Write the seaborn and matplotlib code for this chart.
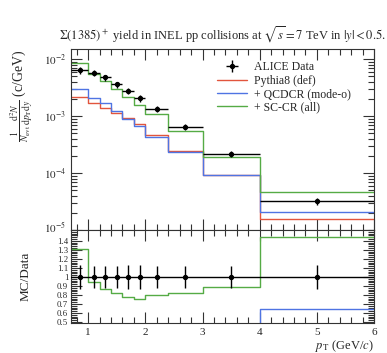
import numpy as np
import pandas as pd
import matplotlib
matplotlib.use("Agg")
import matplotlib.pyplot as plt
import matplotlib.transforms as mtrans
from matplotlib.ticker import FixedLocator, MultipleLocator, FuncFormatter, LogLocator, NullFormatter
import seaborn as sns

# ---------- datos ----------
edges = [0.7, 1.0, 1.2, 1.4, 1.6, 1.8, 2.0, 2.4, 3.0, 4.0, 6.0]
pt_centers = [0.85, 1.1, 1.3, 1.5, 1.7, 1.9, 2.2, 2.7, 3.5, 5.0]
alice = [6.4e-3, 5.8e-3, 4.75e-3, 3.6e-3, 2.75e-3, 2.05e-3, 1.34e-3, 6.5e-4, 2.2e-4, 3.2e-5]
alice_relerr = [0.13, 0.12, 0.12, 0.12, 0.13, 0.13, 0.12, 0.12, 0.12, 0.13]
pythia_def = [2.14e-3, 1.67e-3, 1.37e-3, 1.14e-3, 9.4e-4, 7.2e-4, 4.57e-4, 2.4e-4, 9.1e-5, 1.55e-5]
qcdcr = [3.0e-3, 2.05e-3, 1.67e-3, 1.21e-3, 8.8e-4, 6.6e-4, 4.27e-4, 2.3e-4, 9.1e-5, 2.05e-5]
sccr = [8.38e-3, 5.48e-3, 4.09e-3, 2.97e-3, 2.15e-3, 1.54e-3, 1.07e-3, 5.36e-4, 1.95e-4, 4.6e-5]

modelos = {
    'Pythia8 (def)': (pythia_def, '#e2553d'),
    '+ QCDCR (mode-o)': (qcdcr, '#4f74e3'),
    '+ SC-CR (all)': (sccr, '#55ab45'),
}

sns.set_theme(style='ticks')
plt.rcParams['font.family'] = ['Liberation Serif', 'DejaVu Serif']
plt.rcParams['mathtext.fontset'] = 'stix'

fig = plt.figure(figsize=(3.87, 3.53), dpi=100)
ax = fig.add_axes([0.1835, 0.3484, 0.783, 0.5127])
axr = fig.add_axes([0.1835, 0.085, 0.783, 0.2634], sharex=ax)

edges_a = np.array(edges)
x_lo = np.array(pt_centers) - edges_a[:-1]
x_hi = edges_a[1:] - np.array(pt_centers)
data = np.array(alice)
err = data * np.array(alice_relerr)


def escalones(axis, valores, color, label=None):
    df = pd.DataFrame({'x': edges, 'y': list(valores) + [valores[-1]]})
    sns.lineplot(data=df, x='x', y='y', drawstyle='steps-post', color=color,
                 lw=1.0, ax=axis, estimator=None, legend=False)
    if label:
        axis.lines[-1].set_label(label)


# ---------- panel principal ----------
ax.errorbar(pt_centers, data, xerr=[x_lo, x_hi], yerr=err, fmt='o', color='black',
            ms=2.8, lw=1.0, capsize=0, label='ALICE Data', zorder=5)
for nombre, (vals, col) in modelos.items():
    escalones(ax, vals, col, label=nombre)

ax.set_yscale('log')
ax.set_ylim(1e-5, 1.5e-2)
ax.set_xlim(0.7, 6.0)
ax.yaxis.set_major_locator(FixedLocator([1e-5, 1e-4, 1e-3, 1e-2]))
ax.yaxis.set_minor_locator(LogLocator(base=10, subs=np.arange(2, 10), numticks=10))
ax.yaxis.set_minor_formatter(NullFormatter())
ax.yaxis.set_major_formatter(FuncFormatter(lambda v, p: rf'$10^{{{int(round(np.log10(v)))}}}$'))
ax.set_xlabel('')
ax.set_ylabel(r'$\frac{1}{N_\mathrm{evt}}\frac{\mathrm{d}^2N}{\mathrm{d}p_\mathrm{T}\mathrm{d}y}$ (c/GeV)',
              fontsize=10, loc='top')
ax.tick_params(labelbottom=False)
ax.set_title(r'$\Sigma(1385)^+$ yield in INEL pp collisions at $\sqrt{s}=7$ TeV in $|y|<0.5$.',
             fontsize=9, pad=7)

handles, labels = ax.get_legend_handles_labels()
orden = ['ALICE Data', 'Pythia8 (def)', '+ QCDCR (mode-o)', '+ SC-CR (all)']
hmap = dict(zip(labels, handles))
ax.legend([hmap[k] for k in orden], orden, loc='upper right', frameon=False,
          fontsize=8.5, handlelength=2.6, labelspacing=0.1, handletextpad=0.6,
          bbox_to_anchor=(0.96, 0.99))

# ---------- panel de cociente ----------
ratio_err = np.array(alice_relerr)
axr.axhline(1.0, color='black', lw=1.0, zorder=4)
axr.errorbar(pt_centers, np.ones(len(pt_centers)), yerr=ratio_err, fmt='o', color='black',
             ms=2.8, lw=1.0, capsize=0, zorder=5)
for nombre, (vals, col) in modelos.items():
    escalones(axr, list(np.array(vals) / data), col)

axr.set_ylim(0.49, 1.52)
axr.set_xlim(0.7, 6.0)
axr.yaxis.set_major_locator(FixedLocator([0.5, 0.6, 0.7, 0.8, 0.9, 1.0, 1.1, 1.2, 1.3, 1.4]))
axr.yaxis.set_minor_locator(MultipleLocator(0.02))
axr.yaxis.set_major_formatter(FuncFormatter(lambda v, p: f'{v:g}'))
axr.xaxis.set_major_locator(MultipleLocator(1))
axr.xaxis.set_minor_locator(MultipleLocator(0.2))
axr.set_ylabel('MC/Data', fontsize=9.5)
axr.set_xlabel(r'$p_\mathrm{T}$ (GeV/$c$)', fontsize=9, loc='right', labelpad=1)

for a in (ax, axr):
    a.tick_params(which='both', direction='in', top=True, right=True, labelsize=8,
                  color='#333333', width=0.8)
    a.tick_params(which='major', length=8)
    a.tick_params(which='minor', length=4)
    for s in a.spines.values():
        s.set_linewidth(0.8)
        s.set_color('#333333')
axr.tick_params(axis='y', labelsize=6.3, pad=2)
axr.yaxis.set_label_coords(-0.13, 0.5)
ax.yaxis.set_label_coords(-0.12, 1.0)

# subir un poco la etiqueta 10^-5 para que no pise la de 1.4
fig.canvas.draw()
lab5 = ax.get_yticklabels()[0]
lab5.set_transform(lab5.get_transform() + mtrans.ScaledTranslation(0, 2.5 / 72, fig.dpi_scale_trans))

fig.savefig('out.png', dpi=100)
